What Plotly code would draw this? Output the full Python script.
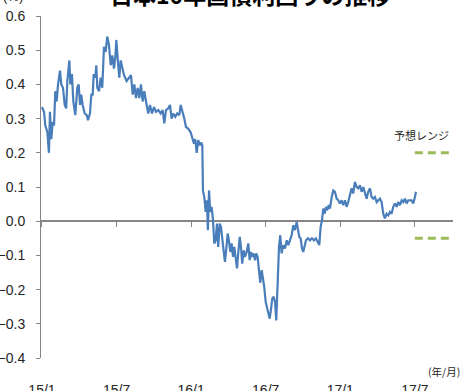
import plotly.graph_objects as go

# months since Jan 2015
months = [0.00, 0.16, 0.27, 0.43, 0.56, 0.64, 0.75, 0.86, 0.97, 1.07, 1.18, 1.29, 1.45, 1.55, 1.69, 1.83,
          1.95, 2.04, 2.20, 2.28, 2.41, 2.52, 2.68, 2.84, 2.95, 3.06, 3.16, 3.27, 3.44, 3.60, 3.70, 3.86,
          3.97, 4.08, 4.16, 4.29, 4.37, 4.45, 4.59, 4.72, 4.85, 4.99, 5.12, 5.25, 5.39, 5.53, 5.66, 5.79,
          5.90, 5.98, 6.11, 6.22, 6.33, 6.44, 6.60, 6.81, 7.02, 7.16, 7.30, 7.43, 7.56, 7.70, 7.83, 7.96,
          8.10, 8.23, 8.37, 8.55, 8.69, 8.85, 9.01, 9.17, 9.36, 9.55, 9.71, 9.84, 9.98, 10.16, 10.30, 10.43,
          10.56, 10.72, 10.88, 11.05, 11.16, 11.32, 11.45, 11.58, 11.77, 11.96, 12.12, 12.23, 12.33, 12.45,
          12.57, 12.71, 12.82, 12.90, 12.95, 13.06, 13.17, 13.27, 13.35, 13.44, 13.54, 13.65, 13.76, 13.86,
          13.97, 14.08, 14.18, 14.30, 14.40, 14.51, 14.62, 14.72, 14.83, 14.94, 15.04, 15.15, 15.26, 15.37,
          15.47, 15.58, 15.69, 15.79, 15.91, 16.01, 16.11, 16.23, 16.33, 16.47, 16.60, 16.71, 16.81, 16.92,
          17.03, 17.14, 17.24, 17.35, 17.46, 17.56, 17.68, 17.78, 17.88, 18.00, 18.10, 18.21, 18.32, 18.42,
          18.53, 18.64, 18.75, 18.85, 18.96, 19.07, 19.17, 19.28, 19.41, 19.55, 19.69, 19.82, 19.95, 20.09,
          20.22, 20.35, 20.49, 20.60, 20.70, 20.81, 20.92, 21.02, 21.13, 21.24, 21.40, 21.56, 21.72, 21.88,
          22.04, 22.20, 22.31, 22.42, 22.53, 22.63, 22.74, 22.85, 22.95, 23.07, 23.17, 23.31, 23.44, 23.57,
          23.71, 23.84, 23.97, 24.11, 24.24, 24.38, 24.51, 24.64, 24.78, 24.91, 25.04, 25.18, 25.32, 25.45,
          25.58, 25.72, 25.85, 25.99, 26.12, 26.25, 26.39, 26.52, 26.65, 26.79, 26.93, 27.19, 27.33, 27.46,
          27.59, 27.73, 27.86, 28.00, 28.13, 28.26, 28.40, 28.54, 28.66, 28.80, 28.94, 29.07, 29.20, 29.34,
          29.47, 29.74, 29.87, 30.01, 30.09]

yields = [0.334, 0.320, 0.280, 0.260, 0.200, 0.320, 0.240, 0.290, 0.280, 0.380, 0.350, 0.400, 0.440, 0.400, 0.390, 0.340,
          0.330, 0.410, 0.470, 0.400, 0.430, 0.350, 0.310, 0.390, 0.400, 0.340, 0.370, 0.340, 0.315, 0.310, 0.295, 0.315,
          0.370, 0.370, 0.430, 0.420, 0.456, 0.390, 0.380, 0.420, 0.390, 0.510, 0.495, 0.540, 0.515, 0.456, 0.485, 0.446,
          0.480, 0.530, 0.466, 0.420, 0.470, 0.450, 0.427, 0.410, 0.420, 0.427, 0.370, 0.400, 0.360, 0.390, 0.360, 0.400,
          0.350, 0.380, 0.350, 0.315, 0.340, 0.315, 0.334, 0.320, 0.325, 0.315, 0.325, 0.286, 0.325, 0.330, 0.340, 0.300,
          0.315, 0.305, 0.315, 0.310, 0.340, 0.320, 0.300, 0.276, 0.270, 0.260, 0.240, 0.227, 0.240, 0.200,
          0.237, 0.222, 0.230, 0.222, 0.090, 0.070, 0.027, 0.061, -0.026, 0.090, 0.027, 0.042, 0.003, -0.065,
          -0.056, -0.007, -0.075, -0.007, -0.017, -0.056, -0.075, -0.119, -0.080, -0.036, -0.056, -0.090, -0.065, -0.104,
          -0.075, -0.109, -0.138, -0.094, -0.046, -0.075, -0.124, -0.085, -0.104, -0.090, -0.065, -0.114, -0.090, -0.104,
          -0.094, -0.114, -0.094, -0.104, -0.153, -0.180, -0.143, -0.163, -0.192, -0.236, -0.250, -0.270, -0.285, -0.260,
          -0.226, -0.221, -0.236, -0.290, -0.143, -0.075, -0.041, -0.094, -0.070, -0.080, -0.056, -0.070, -0.056, -0.041,
          -0.012, -0.026, -0.002, -0.031, -0.046, -0.050, -0.080, -0.090, -0.070, -0.056, -0.050, -0.056, -0.050, -0.056,
          -0.050, -0.060, -0.070, -0.017, 0.003, 0.037, 0.022, 0.042, 0.032, 0.047, 0.037, 0.071, 0.090, 0.086,
          0.066, 0.061, 0.052, 0.061, 0.047, 0.061, 0.042, 0.056, 0.081, 0.096, 0.081, 0.115, 0.100, 0.096,
          0.105, 0.086, 0.100, 0.081, 0.066, 0.086, 0.096, 0.071, 0.066, 0.071, 0.056, 0.066, 0.056, 0.022,
          0.008, 0.022, 0.017, 0.027, 0.022, 0.042, 0.052, 0.042, 0.056, 0.047, 0.061, 0.056, 0.066, 0.052,
          0.061, 0.061, 0.052, 0.071, 0.086]

tick_vals = [0, 6, 12, 18, 24, 30]
tick_text = ["15/1", "15/7", "16/1", "16/7", "17/1", "17/7"]

forecast_x = [30.0, 32.8]
forecast_high = [0.20, 0.20]
forecast_low = [-0.05, -0.05]

title_text = "日本10年国債利回りの推移"

FONT = "Liberation Sans Narrow, Arial Narrow, Liberation Sans, sans-serif"
JP = "Noto Sans CJK JP, sans-serif"
XR = [-0.08, 33.07]

W, H = 464, 391
ML, MR, MT, MB = 41, 11, 16, 33
PW, PH = W - ML - MR, H - MT - MB


def px(xp):
    return (xp - ML) / PW


def py(yp):
    return (H - MB - yp) / PH


fig = go.Figure()
fig.add_trace(go.Scatter(x=months, y=yields, mode="lines",
                         line=dict(color="#4A7EBB", width=2.2), showlegend=False, hoverinfo="skip"))
for fy in (forecast_high, forecast_low):
    fig.add_trace(go.Scatter(x=forecast_x, y=fy, mode="lines", xaxis="x2", yaxis="y",
                             line=dict(color="#9BBB59", width=3, dash="8px,5px"),
                             showlegend=False, hoverinfo="skip"))

fig.update_layout(
    template="none",
    width=W, height=H,
    margin=dict(l=ML, r=MR, t=MT, b=MB, autoexpand=False),
    paper_bgcolor="white", plot_bgcolor="white",
    xaxis=dict(range=XR, tickvals=tick_vals, ticktext=tick_text, showgrid=False, zeroline=False,
               showline=False, ticks="outside", ticklen=19, tickcolor="rgba(0,0,0,0)", automargin=False,
               tickfont=dict(family=FONT, size=14, color="#262626")),
    xaxis2=dict(range=XR, overlaying="x", anchor="free", position=0.4, side="bottom",
                showline=True, linecolor="#868686", linewidth=2, showgrid=False, zeroline=False,
                tickvals=tick_vals, ticks="outside", ticklen=5, tickcolor="#868686", tickwidth=1,
                showticklabels=False, layer="below traces", automargin=False),
    yaxis=dict(range=[-0.4, 0.6], dtick=0.1, tick0=0, tickformat=".1f", showgrid=False, zeroline=False,
               showline=True, linecolor="#868686", linewidth=1, ticks="outside", ticklen=4,
               tickcolor="#868686", ticklabelstandoff=8, automargin=False,
               tickfont=dict(family=FONT, size=14, color="#262626")),
    annotations=[
        dict(text="<b>" + title_text + "</b>", x=px(250), y=py(-6), xref="paper", yref="paper",
             xanchor="center", yanchor="middle", showarrow=False,
             font=dict(family=JP, size=23, color="#000")),
        dict(text="予想レンジ", x=30.57, y=0.251, xref="x", yref="y", showarrow=False,
             font=dict(family=JP, size=11, color="#262626")),
        dict(text="(年/月)", x=px(462), y=py(371), xref="paper", yref="paper", showarrow=False,
             xanchor="right", yanchor="middle",
             font=dict(family=JP, size=10.5, color="#262626")),
        dict(text="(%)", x=px(13), y=py(-3), xref="paper", yref="paper", showarrow=False,
             xanchor="center", yanchor="middle",
             font=dict(family=FONT, size=13, color="#262626")),
    ],
)

fig.write_html("out.html", config={"displayModeBar": False},
               post_script="document.body.style.margin='0';document.body.style.overflow='hidden';")
